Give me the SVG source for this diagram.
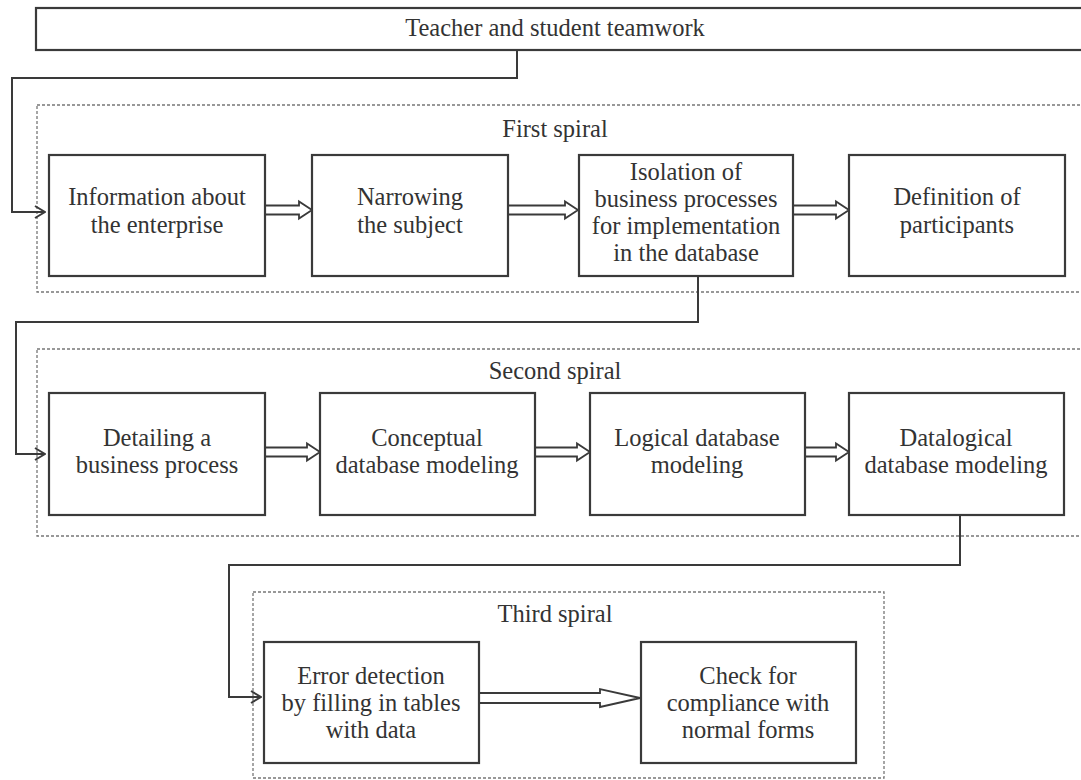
<svg xmlns="http://www.w3.org/2000/svg" width="1081" height="780" viewBox="0 0 1081 780">
<defs>
<style>
.box{fill:#fff;stroke:#3a3a3a;stroke-width:2.2}
.grp{fill:none;stroke:#777;stroke-width:1.3;stroke-dasharray:3,2}
.t{font-family:"Liberation Serif","Times New Roman",serif;font-size:24.5px;fill:#333;text-anchor:middle}
.con{fill:none;stroke:#3a3a3a;stroke-width:2}
.dbl{fill:#fff;stroke:#3a3a3a;stroke-width:1.8;stroke-linejoin:miter}
</style>
<marker id="open" viewBox="0 0 12 14" refX="11" refY="7" markerWidth="12" markerHeight="14" markerUnits="userSpaceOnUse" orient="auto">
<path d="M1,1 L11,7 L1,13" fill="none" stroke="#3a3a3a" stroke-width="2"/>
</marker>
</defs>
<rect width="1081" height="780" fill="#fff"/>

<g id="spirals">
<rect class="grp" x="37" y="105" width="1060" height="187"/>
<text class="t" x="555" y="137">First spiral</text>
<rect class="grp" x="37" y="349" width="1060" height="187"/>
<text class="t" x="555" y="379">Second spiral</text>
<rect class="grp" x="253" y="592" width="631" height="186"/>
<text class="t" x="555" y="622">Third spiral</text>
</g>

<g id="connectors">
<polyline class="con" points="517,50 517,78 12,78 12,212 45,212" marker-end="url(#open)"/>
<polyline class="con" points="698,276 698,322 16,322 16,454 45,454" marker-end="url(#open)"/>
<polyline class="con" points="960,515 960,565 229,565 229,697 261,697" marker-end="url(#open)"/>
<path class="dbl" d="M265,205.5 H299 V201.5 L312,210 L299,218.5 V214.5 H265"/>
<path class="dbl" d="M508,205.5 H565 V201.5 L578,210 L565,218.5 V214.5 H508"/>
<path class="dbl" d="M793,205.5 H836 V201.5 L849,210 L836,218.5 V214.5 H793"/>
<path class="dbl" d="M265,447.5 H307 V443.5 L320,452 L307,460.5 V456.5 H265"/>
<path class="dbl" d="M535,447.5 H577 V443.5 L590,452 L577,460.5 V456.5 H535"/>
<path class="dbl" d="M805,447.5 H836 V443.5 L849,452 L836,460.5 V456.5 H805"/>
<path class="dbl" d="M479,693 H600 V689 L640,698 L600,707 V703 H479"/>
</g>

<g id="n-top">
<rect class="box" x="36" y="8" width="1060" height="42"/>
<text class="t" x="555" y="36">Teacher and student teamwork</text>
</g>

<g id="n-info">
<rect class="box" x="49" y="155" width="216" height="121"/>
<text class="t" x="157" y="205">Information about</text>
<text class="t" x="157" y="233">the enterprise</text>
</g>
<g id="n-narrow">
<rect class="box" x="312" y="155" width="196" height="121"/>
<text class="t" x="410" y="205">Narrowing</text>
<text class="t" x="410" y="233">the subject</text>
</g>
<g id="n-isolation">
<rect class="box" x="579" y="155" width="214" height="121"/>
<text class="t" x="686" y="180">Isolation of</text>
<text class="t" x="686" y="207">business processes</text>
<text class="t" x="686" y="234">for implementation</text>
<text class="t" x="686" y="261">in the database</text>
</g>
<g id="n-participants">
<rect class="box" x="849" y="155" width="216" height="121"/>
<text class="t" x="957" y="205">Definition of</text>
<text class="t" x="957" y="233">participants</text>
</g>

<g id="n-detailing">
<rect class="box" x="49" y="393" width="216" height="122"/>
<text class="t" x="157" y="446">Detailing a</text>
<text class="t" x="157" y="473">business process</text>
</g>
<g id="n-conceptual">
<rect class="box" x="320" y="393" width="215" height="122"/>
<text class="t" x="427" y="446">Conceptual</text>
<text class="t" x="427" y="473">database modeling</text>
</g>
<g id="n-logical">
<rect class="box" x="590" y="393" width="215" height="122"/>
<text class="t" x="697" y="446">Logical database</text>
<text class="t" x="697" y="473">modeling</text>
</g>
<g id="n-datalogical">
<rect class="box" x="849" y="393" width="215" height="122"/>
<text class="t" x="956" y="446">Datalogical</text>
<text class="t" x="956" y="473">database modeling</text>
</g>

<g id="n-error">
<rect class="box" x="264" y="642" width="215" height="121"/>
<text class="t" x="371" y="684">Error detection</text>
<text class="t" x="371" y="711">by filling in tables</text>
<text class="t" x="371" y="738">with data</text>
</g>
<g id="n-check">
<rect class="box" x="641" y="642" width="215" height="121"/>
<text class="t" x="748" y="684">Check for</text>
<text class="t" x="748" y="711">compliance with</text>
<text class="t" x="748" y="738">normal forms</text>
</g>
</svg>
